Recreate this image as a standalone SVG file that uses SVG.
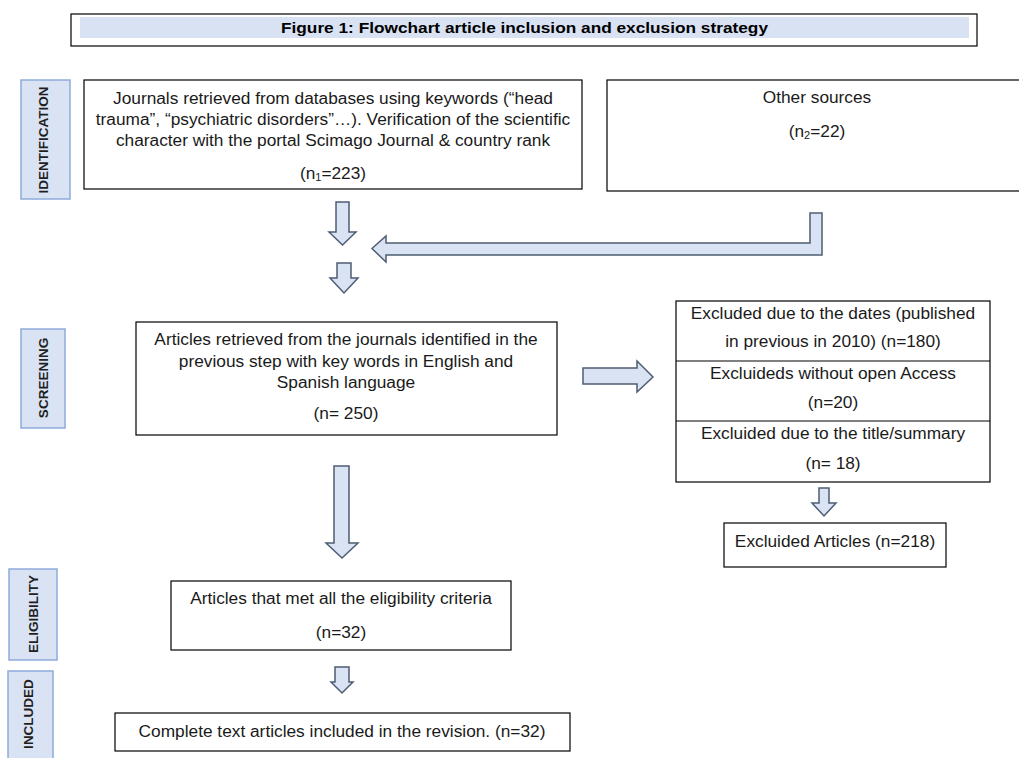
<svg xmlns="http://www.w3.org/2000/svg" width="1019" height="758" viewBox="0 0 1019 758">
<style>
.box{fill:#ffffff;stroke:#000000;stroke-width:1.2}
.lbl{fill:#dae3f3;stroke:#8eaadb;stroke-width:1.5}
.arr{fill:#dae3f3;stroke:#4e5d73;stroke-width:1.5;stroke-linejoin:miter}
.t{font-family:"Liberation Sans",Arial,sans-serif;font-size:17.3px;fill:#1a1a1a;text-anchor:middle}
.lt{font-family:"Liberation Sans",Arial,sans-serif;font-size:13.5px;font-weight:bold;fill:#1f1f1f;text-anchor:middle}
.ttl{font-family:"Liberation Sans",Arial,sans-serif;font-size:15.5px;font-weight:bold;fill:#000;text-anchor:middle}
.sub{font-size:11px}
</style>
<rect width="1019" height="758" fill="#ffffff"/>

<g id="title">
<rect x="71" y="14" width="906" height="32" fill="#ffffff" stroke="#000" stroke-width="1.2"/>
<rect x="80" y="17" width="889" height="21" fill="#d9e2f3"/>
<text class="ttl" x="524.5" y="33" textLength="487" lengthAdjust="spacingAndGlyphs">Figure 1: Flowchart article inclusion and exclusion strategy</text>
</g>

<g id="label-identification">
<rect class="lbl" x="21" y="80" width="49" height="119"/>
<text class="lt" transform="translate(48,140) rotate(-90)">IDENTIFICATION</text>
</g>
<g id="label-screening">
<rect class="lbl" x="21" y="329" width="44" height="99"/>
<text class="lt" transform="translate(47.5,378) rotate(-90)">SCREENING</text>
</g>
<g id="label-eligibility">
<rect class="lbl" x="9" y="569" width="48" height="91"/>
<text class="lt" transform="translate(37.5,614) rotate(-90)">ELIGIBILITY</text>
</g>
<g id="label-included">
<rect class="lbl" x="8" y="671" width="45" height="92"/>
<text class="lt" transform="translate(33,714) rotate(-90)">INCLUDED</text>
</g>

<g id="node-journals">
<rect class="box" x="84" y="80" width="498" height="109"/>
<text class="t" x="333" y="104">Journals retrieved from databases using keywords (“head</text>
<text class="t" x="333" y="125">trauma”, “psychiatric disorders”…). Verification of the scientific</text>
<text class="t" x="333" y="146">character with the portal Scimago Journal &amp; country rank</text>
<text class="t" x="333" y="179">(n<tspan class="sub" dy="2">1</tspan><tspan dy="-2">=223)</tspan></text>
</g>

<g id="node-other">
<rect class="box" x="607" y="80" width="430" height="111"/>
<text class="t" x="817" y="103">Other sources</text>
<text class="t" x="817" y="137">(n<tspan class="sub" dy="2">2</tspan><tspan dy="-2">=22)</tspan></text>
</g>

<g id="node-screening">
<rect class="box" x="136" y="322" width="421" height="113"/>
<text class="t" x="346" y="345">Articles retrieved from the journals identified in the</text>
<text class="t" x="346" y="367">previous step with key words in English and</text>
<text class="t" x="346" y="388">Spanish language</text>
<text class="t" x="346" y="419">(n= 250)</text>
</g>

<g id="node-exclusions">
<rect class="box" x="676" y="301" width="314" height="181"/>
<line x1="676" y1="361" x2="990" y2="361" stroke="#000" stroke-width="1.2"/>
<line x1="676" y1="421" x2="990" y2="421" stroke="#000" stroke-width="1.2"/>
<text class="t" x="833" y="319">Excluded due to the dates (published</text>
<text class="t" x="833" y="346.5">in previous in 2010) (n=180)</text>
<text class="t" x="833" y="379">Excluideds without open Access</text>
<text class="t" x="833" y="408">(n=20)</text>
<text class="t" x="833" y="439">Excluided due to the title/summary</text>
<text class="t" x="833" y="469">(n= 18)</text>
</g>

<g id="node-excluded-total">
<rect class="box" x="724" y="523" width="222" height="44"/>
<text class="t" x="835" y="547">Excluided Articles (n=218)</text>
</g>

<g id="node-eligibility">
<rect class="box" x="171" y="581" width="340" height="69"/>
<text class="t" x="341" y="604">Articles that met all the eligibility criteria</text>
<text class="t" x="341" y="638">(n=32)</text>
</g>

<g id="node-included">
<rect class="box" x="115" y="713" width="455" height="38"/>
<text class="t" x="342" y="737">Complete text articles included in the revision. (n=32)</text>
</g>

<g id="connectors">
<polygon class="arr" points="336,202 349,202 349,232 356,232 342.5,245 329,232 336,232"/>
<polygon class="arr" points="337,263 351,263 351,278 358,278 344,293 330,278 337,278"/>
<polygon class="arr" points="372,248.5 386,236 386,243 810,243 810,213 822,213 822,255 386,255 386,262"/>
<polygon class="arr" points="583,368 637,368 637,361 653,377 637,392 637,384 583,384"/>
<polygon class="arr" points="334,466 349,466 349,543 358,543 342,558 326,543 334,543"/>
<polygon class="arr" points="819,488 829,488 829,503 836,503 824,516 812,503 819,503"/>
<polygon class="arr" points="335,667 349,667 349,682 353,682 342,693 331,682 335,682"/>
</g>
</svg>
